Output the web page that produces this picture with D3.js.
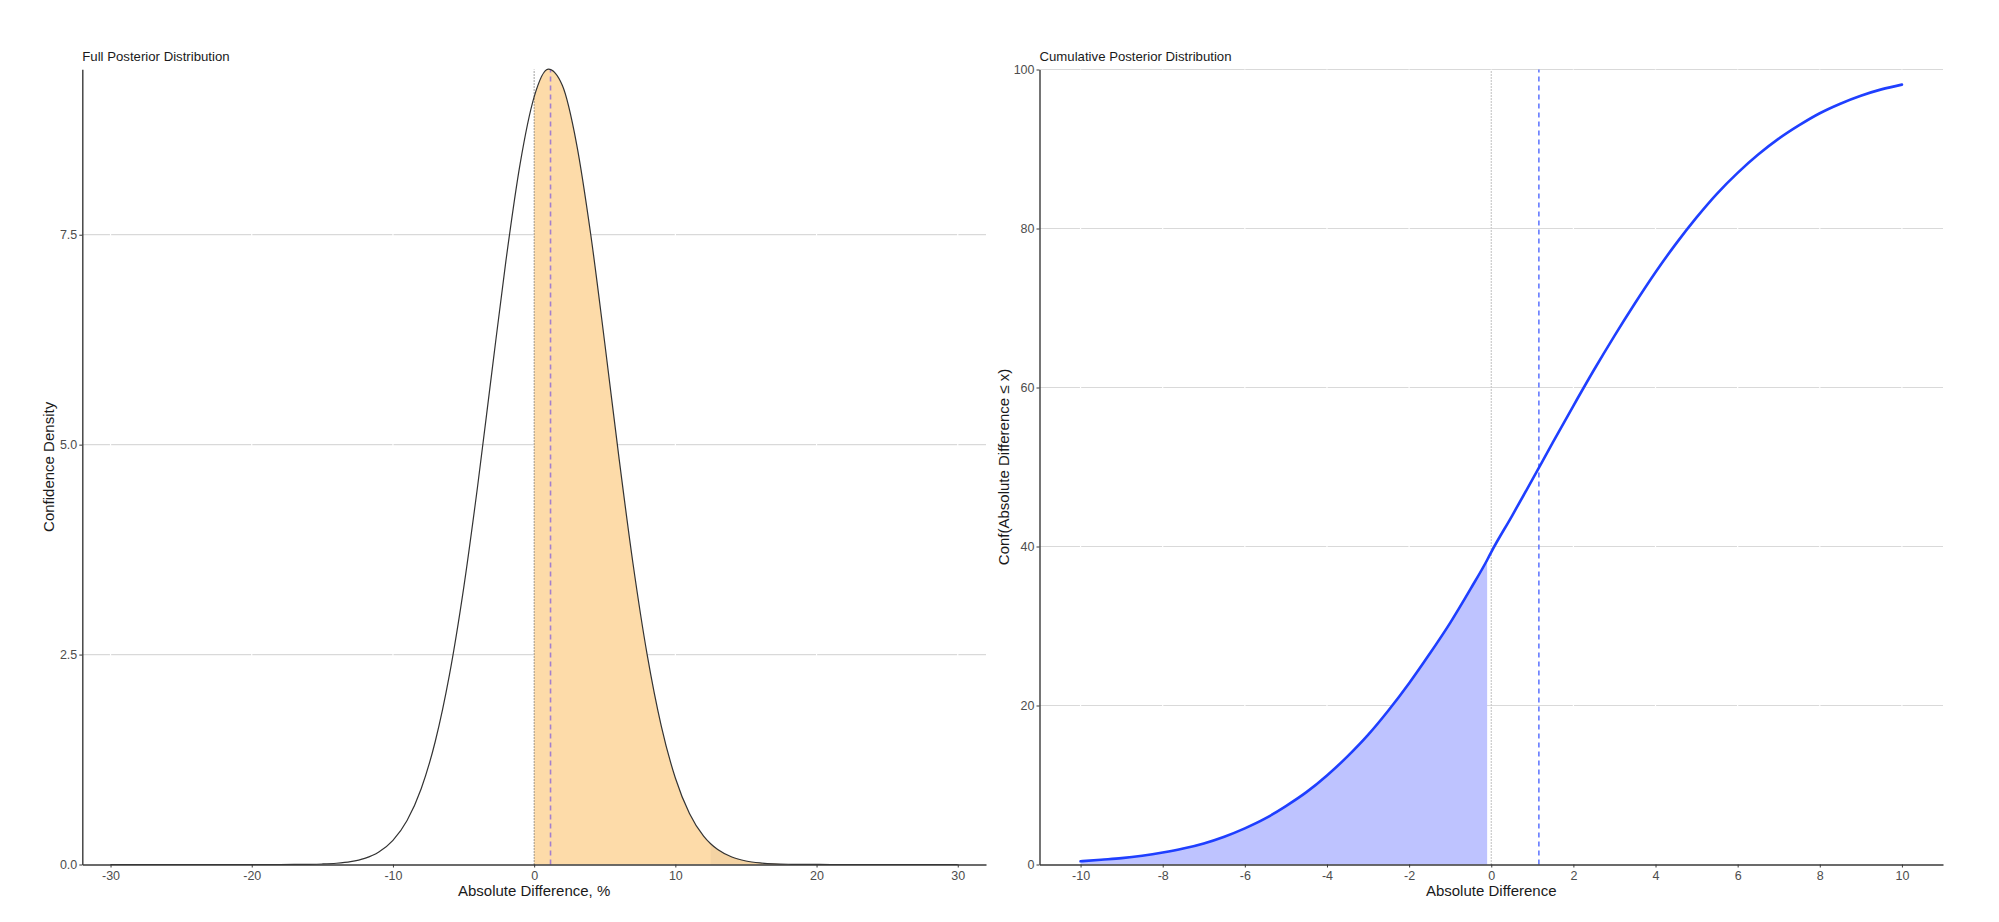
<!DOCTYPE html>
<html>
<head>
<meta charset="utf-8">
<script src="https://cdn.jsdelivr.net/npm/d3@7"></script>
<style>
    body { margin: 0; background: #fff; }
    svg { font-family: 'Liberation Sans', Arial, sans-serif; }
</style>
</head>
<body>
<svg id="chart" width="1999" height="922"></svg>
<script>

// full posterior (density)
const densityX = [-30, -29, -28, -27, -26, -25, -24, -23, -22, -21, -20, -19, -18, -17, -16, -15, -14, -13, -12, -11,
    -10, -9, -8, -7, -6, -5, -4, -3, -2, -1, 0, 1, 2, 3, 4, 5, 6, 7, 8, 9, 10, 11, 12, 12.5, 13, 14, 15, 16, 17, 18, 19,
    20, 21, 22, 23, 24, 25, 26, 27, 28, 29, 30]
const densityY = [0, 0, 0, 0, 0, 0, 0, 0, 0, 0, 0, 0.0001, 0.0003, 0.001, 0.0024, 0.0062, 0.015, 0.034, 0.073, 0.149,
    0.288, 0.524, 0.903, 1.468, 2.258, 3.283, 4.511, 5.857, 7.188, 8.338, 9.141, 9.471, 9.276, 8.586, 7.512, 6.211, 4.854,
    3.585, 2.503, 1.652, 1.030, 0.607, 0.338, 0.247, 0.178, 0.089, 0.042, 0.019, 0.008, 0.003, 0.001,
    0.0004, 0.0001, 0, 0, 0, 0, 0, 0, 0, 0, 0]

// cumulative posterior, in %
const cdfX = [-10, -9.5, -9, -8.5, -8, -7.5, -7, -6.5, -6, -5.5, -5, -4.5, -4, -3.5, -3, -2.5, -2, -1.5, -1, -0.5, -0.1,
    0, 0.5, 1, 1.5, 2, 2.5, 3, 3.5, 4, 4.5, 5, 5.5, 6, 6.5, 7, 7.5, 8, 8.5, 9, 9.5, 10]
const cdfY = [0.4, 0.6, 0.8, 1.1, 1.5, 2.0, 2.65, 3.5, 4.55, 5.8, 7.35, 9.1, 11.2, 13.6, 16.3, 19.4, 22.8, 26.5, 30.4, 34.7, 38.3,
    39.3, 43.8, 48.4, 53.1, 57.7, 62.2, 66.5, 70.6, 74.5, 78.1, 81.4, 84.4, 87.0, 89.3, 91.3, 93.0, 94.5, 95.7, 96.7, 97.5, 98.1]

const densityXTicks = [-30, -20, -10, 0, 10, 20, 30]
const densityYTicks = [0, 2.5, 5, 7.5]
const cdfXTicks = [-10, -8, -6, -4, -2, 0, 2, 4, 6, 8, 10]
const cdfYTicks = [0, 20, 40, 60, 80, 100]

const median = 1.16
const tailStart = 12.5

const svg = d3.select('#chart')

const pts = (xs, ys) => xs.map((x, i) => ({ x: x, y: ys[i] }))

// frame: grid, axes, titles
function drawFrame(g, x, y, o) {
    let [x0, x1] = x.range()
    let [y0, y1] = y.range()

    g.append('g').selectAll('line')
        .data(o.yTicks.filter(d => d > 0))
        .join('line')
        .attr('x1', x0).attr('x2', x1)
        .attr('y1', d => y(d)).attr('y2', d => y(d))
        .attr('stroke', '#d9d9d9')
        .attr('stroke-width', 1.2)

    g.append('g').selectAll('line')
        .data(o.xTicks)
        .join('line')
        .attr('x1', d => x(d)).attr('x2', d => x(d))
        .attr('y1', y0).attr('y2', y1)
        .attr('stroke', '#fff')
        .attr('stroke-width', 1.2)

    let layer = g.append('g')

    let xAxis = g.append('g')
        .attr('transform', `translate(0, ${y0})`)
        .call(d3.axisBottom(x).tickValues(o.xTicks).tickSize(3).tickSizeOuter(0).tickPadding(4))

    let yAxis = g.append('g')
        .attr('transform', `translate(${x0}, 0)`)
        .call(d3.axisLeft(y).tickValues(o.yTicks).tickSize(3).tickSizeOuter(0).tickPadding(2).tickFormat(o.yFormat))

    for (let a of [xAxis, yAxis]) {
        a.select('.domain').attr('stroke', '#3a3a3a').attr('stroke-width', 1.4)
        a.selectAll('.tick line').attr('stroke', '#3a3a3a').attr('stroke-width', 1)
        a.selectAll('.tick text')
            .attr('fill', '#4d4d4d')
            .attr('font-size', '12.5px')
            .attr('font-family', 'Liberation Sans, Arial, sans-serif')
    }
    // ggplot prints a plain hyphen for negatives
    xAxis.selectAll('.tick text').text(d => String(d))

    g.append('text')
        .text(o.title)
        .attr('x', x0)
        .attr('y', 61)
        .attr('font-size', '13.2px')
        .attr('fill', '#1a1a1a')

    g.append('text')
        .text(o.xLabel)
        .attr('x', (x0 + x1) / 2)
        .attr('y', 896)
        .attr('text-anchor', 'middle')
        .attr('font-size', '15px')
        .attr('fill', '#1a1a1a')

    g.append('text')
        .text(o.yLabel)
        .attr('transform', `translate(${o.yLabelX}, ${(y0 + y1) / 2}) rotate(-90)`)
        .attr('text-anchor', 'middle')
        .attr('font-size', '15px')
        .attr('fill', '#1a1a1a')

    xAxis.raise()
    yAxis.raise()
    return layer
}

function vline(layer, x, y, v, color, dash, width) {
    layer.append('line')
        .attr('x1', x(v)).attr('x2', x(v))
        .attr('y1', y.range()[0]).attr('y2', y.range()[1])
        .attr('stroke', color)
        .attr('stroke-width', width)
        .attr('stroke-dasharray', dash)
}

// ---- left: full posterior distribution
{
    let x = d3.scaleLinear([-32, 32], [82.3, 986])
    let y = d3.scaleLinear([0, 9.47], [864.5, 69.3])
    let g = svg.append('g')

    let layer = drawFrame(g, x, y, {
        xTicks: densityXTicks, yTicks: densityYTicks, yFormat: d3.format('.1f'),
        title: 'Full Posterior Distribution',
        xLabel: 'Absolute Difference, %',
        yLabel: 'Confidence Density', yLabelX: 54
    })

    let data = pts(densityX, densityY)
    let area = d3.area().x(d => x(d.x)).y0(y(0)).y1(d => y(d.y)).curve(d3.curveMonotoneX)
    let line = d3.line().x(d => x(d.x)).y(d => y(d.y)).curve(d3.curveMonotoneX)

    layer.append('path')
        .attr('d', area(data.filter(d => d.x >= 0)))
        .attr('fill', '#fddba9')

    layer.append('path')
        .attr('d', area(data.filter(d => d.x >= tailStart)))
        .attr('fill', '#f4d3a3')

    vline(layer, x, y, 0, '#555', '1,2', 1.1)
    vline(layer, x, y, median, '#a47fcf', '5,4', 1.6)

    layer.append('path')
        .attr('d', line(data))
        .attr('fill', 'none')
        .attr('stroke', '#333')
        .attr('stroke-width', 1.2)
}

// ---- right: cumulative posterior distribution
{
    let x = d3.scaleLinear([-11, 11], [1039.5, 1943])
    let y = d3.scaleLinear([0, 100], [864.5, 69.5])
    let g = svg.append('g')

    let layer = drawFrame(g, x, y, {
        xTicks: cdfXTicks, yTicks: cdfYTicks, yFormat: d3.format('d'),
        title: 'Cumulative Posterior Distribution',
        xLabel: 'Absolute Difference',
        yLabel: 'Conf(Absolute Difference \u2264 x)', yLabelX: 1009
    })

    let data = pts(cdfX, cdfY)
    let area = d3.area().x(d => x(d.x)).y0(y(0)).y1(d => y(d.y)).curve(d3.curveMonotoneX)
    let line = d3.line().x(d => x(d.x)).y(d => y(d.y)).curve(d3.curveMonotoneX)

    layer.append('path')
        .attr('d', area(data.filter(d => d.x < 0)))
        .attr('fill', '#bec3ff')

    vline(layer, x, y, 0, '#8a8a8a', '1,2', 1.1)
    vline(layer, x, y, median, '#5a72ff', '5,4', 1.5)

    layer.append('path')
        .attr('d', line(data))
        .attr('fill', 'none')
        .attr('stroke', '#1f3fff')
        .attr('stroke-width', 2.6)
        .attr('stroke-linecap', 'round')
}

</script>
</body>
</html>
